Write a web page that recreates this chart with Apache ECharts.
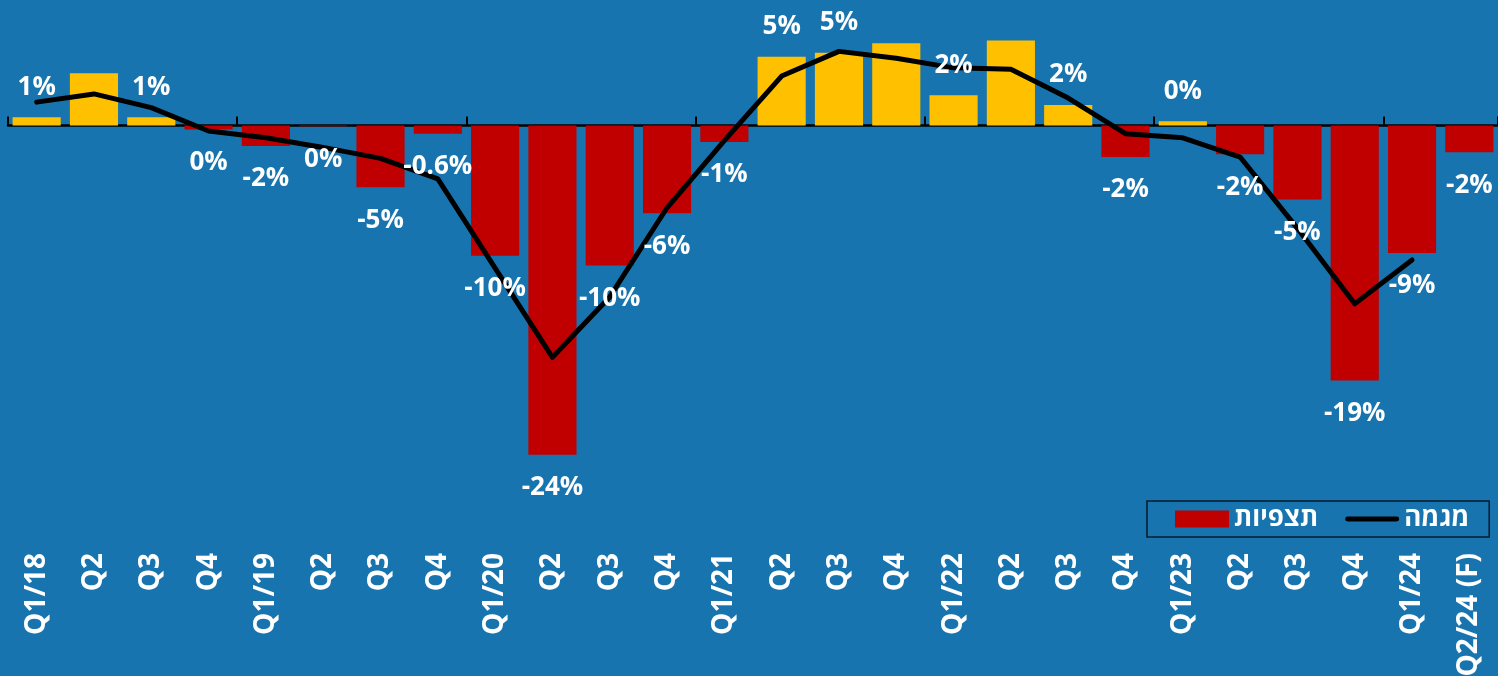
<!DOCTYPE html>
<html>
<head>
<meta charset="utf-8">
<script src="https://cdn.jsdelivr.net/npm/echarts@6/dist/echarts.min.js"></script>
<style>
html,body{margin:0;padding:0;background:#1874AE;}
#c{width:1498px;height:676px;}
</style>
</head>
<body>
<div id="c"></div>
<script>
var categories = ['Q1/18','Q2/18','Q3/18','Q4/18','Q1/19','Q2/19','Q3/19','Q4/19','Q1/20','Q2/20','Q3/20','Q4/20','Q1/21','Q2/21','Q3/21','Q4/21','Q1/22','Q2/22','Q3/22','Q4/22','Q1/23','Q2/23','Q3/23','Q4/23','Q1/24','Q2/24 (F)'];
var tickLabels = ['Q1/18','Q2','Q3','Q4','Q1/19','Q2','Q3','Q4','Q1/20','Q2','Q3','Q4','Q1/21','Q2','Q3','Q4','Q1/22','Q2','Q3','Q4','Q1/23','Q2','Q3','Q4','Q1/24','Q2/24 (F)'];
var observations = [0.6, 3.8, 0.6, -0.3, -1.5, -0.05, -4.5, -0.6, -9.5, -24.0, -10.2, -6.4, -1.2, 5.0, 5.3, 6.0, 2.2, 6.2, 1.5, -2.3, 0.3, -2.1, -5.4, -18.6, -9.3, -1.95];
var obsLabels = ['1%','','1%','0%','-2%','0%','-5%','-0.6%','-10%','-24%','-10%','-6%','-1%','5%','5%','','2%','','2%','-2%','0%','-2%','-5%','-19%','-9%','-2%'];
var trend = [1.7, 2.3, 1.3, -0.4, -0.9, -1.6, -2.4, -3.9, -10.4, -16.9, -12.5, -6.0, -1.1, 3.6, 5.4, 4.9, 4.2, 4.1, 2.0, -0.6, -0.9, -2.3, -7.5, -13.0, -9.8, null];

var FONT = '"Open Sans", "DejaVu Sans", sans-serif';
var RED = '#C00000', GOLD = '#FFC000';

var barData = observations.map(function (v) {
  return { value: v, itemStyle: { color: v >= 0 ? GOLD : RED } };
});
var labelData = observations.map(function (v, i) {
  return {
    value: v,
    label: {
      show: obsLabels[i] !== '',
      position: v >= 0 ? 'top' : 'bottom',
      distance: v >= 0 ? 17 : 20,
      formatter: function () { return obsLabels[i]; }
    }
  };
});

var chart = echarts.init(document.getElementById('c'));
chart.setOption({
  backgroundColor: '#1874AE',
  animation: false,
  grid: { left: 8, right: 0, top: 2, bottom: 139, containLabel: false, outerBoundsMode: 'none' },
  legend: {
    data: [
      { name: 'תצפיות', icon: 'rect' },
      { name: 'מגמה', icon: 'path://M2.5,0L52.5,0A2.5,2.5,0,0,1,52.5,5L2.5,5A2.5,2.5,0,0,1,2.5,0Z' }
    ],
    left: 1147, top: 501,
    orient: 'horizontal',
    backgroundColor: '#1874AE',
    borderColor: '#0a1a2a', borderWidth: 1.5, borderRadius: 0,
    padding: [5, 20, 5, 28],
    itemGap: 27, itemWidth: 54, itemHeight: 17,
    symbolKeepAspect: true,
    textStyle: { color: '#fff', fontSize: 26, fontWeight: 'bold', fontFamily: FONT }
  },
  xAxis: [
    {
      type: 'category', data: categories, position: 'bottom',
      axisLine: { onZero: true, lineStyle: { color: '#000', width: 2.5 } },
      axisTick: { show: true, inside: true, length: 9, lineStyle: { color: '#000', width: 2 },
        interval: function (i) { return i % 4 === 0; } },
      axisLabel: { show: false },
      splitLine: { show: false }
    },
    {
      type: 'category', data: categories, position: 'bottom',
      axisLine: { show: false, onZero: false },
      axisTick: { show: false },
      axisLabel: {
        show: true, interval: 0, rotate: 90, margin: 16,
        color: '#fff', fontSize: 28, fontWeight: 'bold', fontFamily: FONT,
        formatter: function (v, i) { return tickLabels[i]; }
      }
    }
  ],
  yAxis: {
    type: 'value', min: -30, max: 9, show: false,
    splitLine: { show: false }
  },
  series: [
    {
      name: 'תצפיות', type: 'bar', xAxisIndex: 0, data: barData,
      barCategoryGap: '16%', barGap: '-100%', z: 2,
      itemStyle: { color: RED }
    },
    {
      name: 'מגמה', type: 'line', xAxisIndex: 0, data: trend,
      symbol: 'none', z: 3,
      lineStyle: { color: '#000', width: 5, cap: 'round', join: 'round' },
      itemStyle: { color: '#000' }
    },
    {
      name: 'labels', type: 'bar', xAxisIndex: 0, data: labelData,
      barCategoryGap: '16%', barGap: '-100%', z: 4, silent: true,
      itemStyle: { color: 'rgba(0,0,0,0)' },
      label: { color: '#fff', fontSize: 26, fontWeight: 'bold', fontFamily: FONT }
    }
  ]
});
</script>
</body>
</html>
